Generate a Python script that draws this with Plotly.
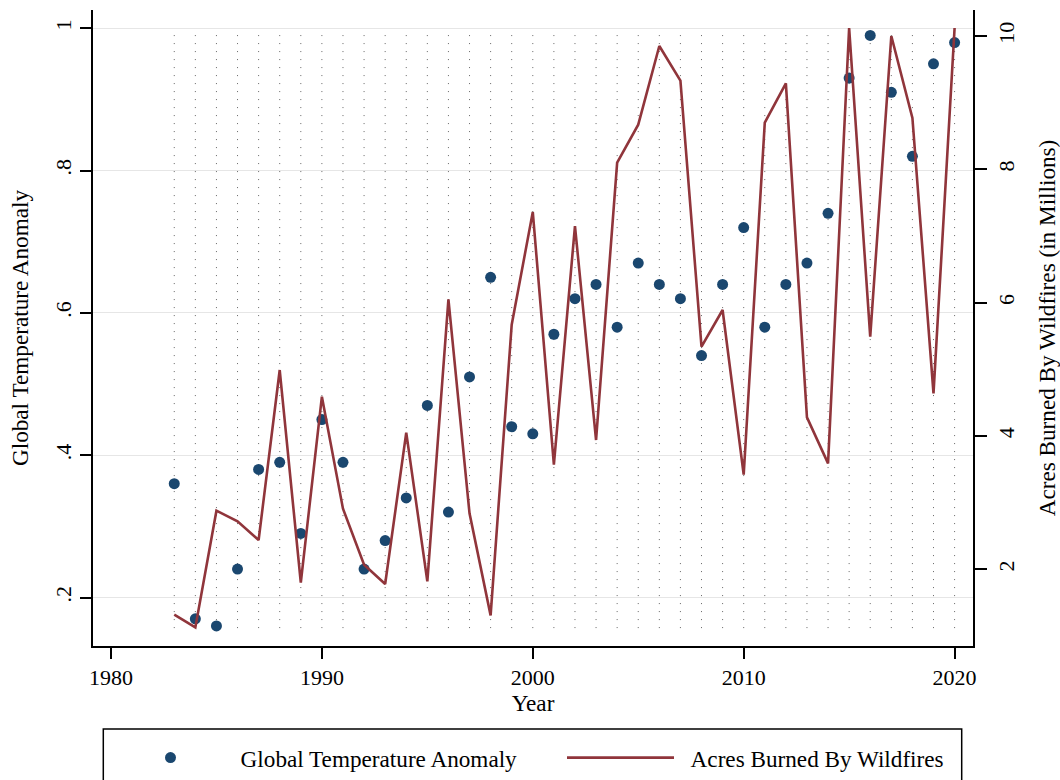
import plotly.graph_objects as go

# ---- data ----
years = list(range(1983, 2021))
temp_anomaly = [0.36, 0.17, 0.16, 0.24, 0.38, 0.39, 0.29, 0.45, 0.39, 0.24,
                0.28, 0.34, 0.47, 0.32, 0.51, 0.65, 0.44, 0.43, 0.57, 0.62,
                0.64, 0.58, 0.67, 0.64, 0.62, 0.54, 0.64, 0.72, 0.58, 0.64,
                0.67, 0.74, 0.93, 0.99, 0.91, 0.82, 0.95, 0.98]
acres_millions = [1.32, 1.13, 2.88, 2.72, 2.44, 4.99, 1.80, 4.59, 2.91, 2.07,
                  1.78, 4.05, 1.82, 6.05, 2.84, 1.31, 5.67, 7.36, 3.57, 7.15,
                  3.94, 8.10, 8.67, 9.85, 9.33, 5.34, 5.89, 3.42, 8.70, 9.29,
                  4.28, 3.59, 10.12, 5.49, 10.00, 8.77, 4.64, 10.12]
x_ticks = [1980, 1990, 2000, 2010, 2020]
left_ticks = [0.2, 0.4, 0.6, 0.8, 1.0]
left_tick_text = [".2", ".4", ".6", ".8", "1"]
right_ticks = [2, 4, 6, 8, 10]

NAVY = "#1a476f"
MAROON = "#90353b"
FONT = "Liberation Serif"
TICK_SIZE = 22
TEXT_SIZE = 23.2

fig = go.Figure()

fig.add_trace(go.Scatter(
    x=years, y=temp_anomaly, mode="markers",
    name="\u00a0\u00a0Global Temperature Anomaly",
    marker=dict(color=NAVY, size=11, line=dict(width=0)),
    legendwidth=328,
))
fig.add_trace(go.Scatter(
    x=years, y=acres_millions, mode="lines", yaxis="y2",
    name="\u00a0\u00a0Acres Burned By Wildfires",
    line=dict(color=MAROON, width=2.6),
    legendwidth=270,
))

# vertical dotted year lines
for yr in years:
    fig.add_shape(type="line", xref="x", yref="y", x0=yr, x1=yr,
                  y0=0.157, y1=1.0, layer="below",
                  line=dict(color="#666666", width=1, dash="1px,7px"))

# legend frame
fig.add_shape(type="rect", xref="paper", yref="paper",
              x0=(103.3 - 93) / 880, x1=(961.7 - 93) / 880,
              y0=(646 - 729) / 636, y1=(646 - 820) / 636,
              line=dict(color="black", width=1.5), fillcolor="rgba(0,0,0,0)")

axis_common = dict(showline=True, linecolor="black", linewidth=1.5,
                   ticks="outside", tickcolor="black", tickwidth=1.5,
                   zeroline=False,
                   tickfont=dict(family=FONT, size=TICK_SIZE, color="black"))

fig.update_layout(
    width=1060, height=780,
    margin=dict(l=93, r=87, t=10, b=134, autoexpand=False),
    paper_bgcolor="white", plot_bgcolor="white",
    font=dict(family=FONT, color="black"),
    xaxis=dict(range=[1979.147, 2020.873], tickvals=x_ticks, ticklen=11,
               showgrid=False,
               title=dict(text="Year", font=dict(family=FONT, size=TEXT_SIZE),
                          standoff=4),
               **axis_common),
    yaxis=dict(range=[0.13183, 1.02572], tickvals=left_ticks,
               ticktext=left_tick_text, tickangle=-90, ticklen=11,
               showgrid=True, gridcolor="#e6e6e6", gridwidth=1.3,
               title=dict(text="Global Temperature Anomaly",
                          font=dict(family=FONT, size=TEXT_SIZE), standoff=16),
               **axis_common),
    yaxis2=dict(range=[0.8505, 10.39], tickvals=right_ticks, tickangle=-90,
                ticklen=12, ticklabelstandoff=1, overlaying="y", side="right",
                showgrid=False,
                title=dict(text="Acres Burned By Wildfires (in Millions)",
                           font=dict(family=FONT, size=TEXT_SIZE), standoff=22),
                **axis_common),
    legend=dict(orientation="h", x=(112 - 93) / 880, xanchor="left",
                y=(646 - 736) / 636, yanchor="top",
                font=dict(family=FONT, size=TEXT_SIZE, color="black"),
                itemwidth=107, borderwidth=0, bgcolor="rgba(0,0,0,0)",
                traceorder="normal"),
    showlegend=True,
)

fig.write_html("out.html")
